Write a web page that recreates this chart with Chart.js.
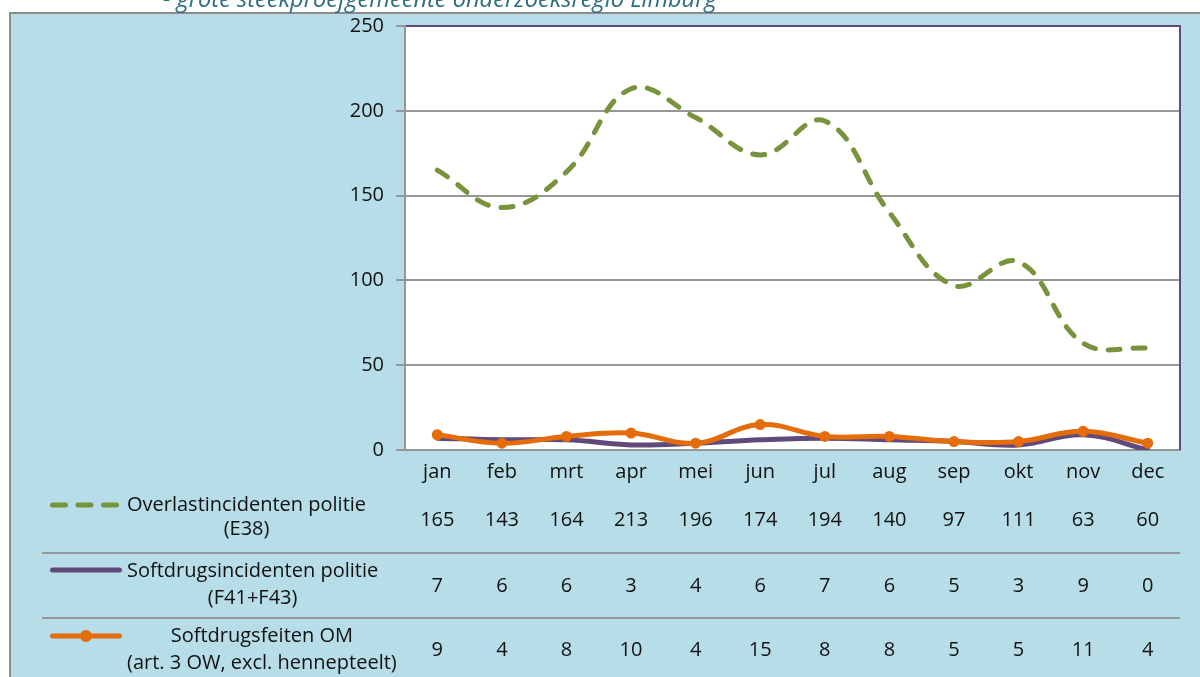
<!DOCTYPE html>
<html>
<head>
<meta charset="utf-8">
<script src="https://cdn.jsdelivr.net/npm/chart.js@4.4.1/dist/chart.umd.min.js"></script>
<style>
  html, body { margin: 0; padding: 0; background: #fff; }
  #chart { display: block; }
</style>
</head>
<body>
<canvas id="chart" width="1200" height="677"></canvas>
<script>
// chart data
const months = ['jan', 'feb', 'mrt', 'apr', 'mei', 'jun', 'jul', 'aug', 'sep', 'okt', 'nov', 'dec'];
const overlast = [165, 143, 164, 213, 196, 174, 194, 140, 97, 111, 63, 60];
const softdrugsPolitie = [7, 6, 6, 3, 4, 6, 7, 6, 5, 3, 9, 0];
const softdrugsOM = [9, 4, 8, 10, 4, 15, 8, 8, 5, 5, 11, 4];
const yTicks = [0, 50, 100, 150, 200, 250];

const seriesLabels = [
    ['Overlastincidenten politie', '(E38)'],
    ['Softdrugsincidenten politie', '(F41+F43)'],
    ['Softdrugsfeiten OM', '(art. 3 OW, excl. hennepteelt)']
];
const titleText = '- grote steekproefgemeente onderzoeksregio Limburg';

const GREEN = '#77933C';
const PURPLE = '#604A7B';
const ORANGE = '#E46C0A';
const GRAY = '#969696';
const BG = '#B7DDE8';
const FONT = '"Open Sans", "Noto Sans", sans-serif';
const FONT_SIZE = 20;
const TEXT = '#111111';

// background frame + plot area fill
const framePlugin = {
    id: 'frame',
    beforeDraw(chart) {
        const { ctx, chartArea } = chart;
        ctx.save();
        ctx.fillStyle = '#ffffff';
        ctx.fillRect(0, 0, chart.width, chart.height);
        ctx.fillStyle = BG;
        ctx.fillRect(10, 12, chart.width - 10, chart.height - 12);
        ctx.strokeStyle = '#8c8c8c';
        ctx.lineWidth = 2;
        ctx.beginPath();
        ctx.moveTo(10, chart.height);
        ctx.lineTo(10, 13);
        ctx.lineTo(chart.width, 13);
        ctx.stroke();

        // title line (only lower half visible)
        ctx.fillStyle = '#2E6D80';
        let size = 21;
        ctx.font = 'italic ' + size + 'px ' + FONT;
        const w = ctx.measureText(titleText).width;
        size = size * 554 / w;
        ctx.font = 'italic ' + size.toFixed(1) + 'px ' + FONT;
        ctx.textBaseline = 'alphabetic';
        ctx.fillText(titleText, 163, 7);

        ctx.fillStyle = '#ffffff';
        ctx.fillRect(chartArea.left, chartArea.top, chartArea.right - chartArea.left, chartArea.bottom - chartArea.top);
        ctx.restore();
    },
    beforeDatasetsDraw(chart) {
        const { ctx, chartArea } = chart;
        ctx.save();
        ctx.strokeStyle = PURPLE;
        ctx.lineWidth = 2;
        ctx.beginPath();
        ctx.moveTo(chartArea.right, chartArea.top - 1);
        ctx.lineTo(chartArea.right, chartArea.bottom);
        ctx.stroke();
        ctx.restore();
    }
};

// data table under the chart
const tablePlugin = {
    id: 'dataTable',
    afterDraw(chart) {
        const { ctx } = chart;
        const xScale = chart.scales.x;
        const rows = [overlast, softdrugsPolitie, softdrugsOM];
        const rowY = [520, 586, 650];
        const textY = [[505, 529], [571, 598], [636, 663]];
        const symY = [505, 570, 636];
        ctx.save();

        // separators
        ctx.strokeStyle = GRAY;
        ctx.lineWidth = 2;
        [553, 618].forEach(y => {
            ctx.beginPath();
            ctx.moveTo(42, y);
            ctx.lineTo(chart.chartArea.right, y);
            ctx.stroke();
        });

        ctx.font = FONT_SIZE + 'px ' + FONT;
        ctx.fillStyle = TEXT;
        ctx.textAlign = 'center';
        ctx.textBaseline = 'middle';
        rows.forEach((row, r) => {
            row.forEach((v, i) => {
                ctx.fillText(String(v), xScale.getPixelForValue(i), rowY[r]);
            });
            const lines = seriesLabels[r];
            const maxW = Math.max(...lines.map(l => ctx.measureText(l).width));
            const cx = 127 + maxW / 2;
            lines.forEach((l, k) => ctx.fillText(l, cx, textY[r][k]));
        });

        // legend symbols
        ctx.lineCap = 'round';
        ctx.lineWidth = 5;
        ctx.strokeStyle = GREEN;
        ctx.setLineDash([13, 12.5]);
        ctx.beginPath();
        ctx.moveTo(52.5, symY[0]);
        ctx.lineTo(119, symY[0]);
        ctx.stroke();
        ctx.setLineDash([]);

        ctx.strokeStyle = PURPLE;
        ctx.beginPath();
        ctx.moveTo(52.5, symY[1]);
        ctx.lineTo(119.5, symY[1]);
        ctx.stroke();

        ctx.strokeStyle = ORANGE;
        ctx.beginPath();
        ctx.moveTo(52.5, symY[2]);
        ctx.lineTo(119.5, symY[2]);
        ctx.stroke();
        ctx.fillStyle = ORANGE;
        ctx.beginPath();
        ctx.arc(86, symY[2], 6, 0, Math.PI * 2);
        ctx.fill();
        ctx.restore();
    }
};

const ctx = document.getElementById('chart').getContext('2d');
new Chart(ctx, {
    type: 'line',
    data: {
        labels: months,
        datasets: [
            {
                label: seriesLabels[0].join(' '),
                data: overlast,
                borderColor: GREEN,
                borderWidth: 5,
                borderDash: [12, 13],
                borderCapStyle: 'round',
                pointRadius: 0,
                tension: 0.4,
                order: 2
            },
            {
                label: seriesLabels[1].join(' '),
                data: softdrugsPolitie,
                borderColor: PURPLE,
                borderWidth: 5,
                borderCapStyle: 'round',
                pointRadius: 0,
                tension: 0.4,
                order: 1
            },
            {
                label: seriesLabels[2].join(' '),
                data: softdrugsOM,
                borderColor: ORANGE,
                backgroundColor: ORANGE,
                borderWidth: 5,
                borderCapStyle: 'round',
                pointRadius: 5.5,
                pointBorderWidth: 0,
                pointBackgroundColor: ORANGE,
                tension: 0.4,
                order: 0
            }
        ]
    },
    options: {
        responsive: false,
        animation: false,
        devicePixelRatio: 1,
        layout: { padding: { top: 26, right: 20, left: 0, bottom: 0 } },
        plugins: {
            legend: { display: false },
            tooltip: { enabled: false }
        },
        scales: {
            x: {
                offset: true,
                grid: { display: false },
                border: { display: true, color: GRAY, width: 2 },
                ticks: { color: TEXT, font: { family: FONT, size: FONT_SIZE }, padding: 2, maxRotation: 0 },
                afterFit(scale) { scale.height = 227; }
            },
            y: {
                min: 0,
                max: 250,
                afterBuildTicks(scale) { scale.ticks = yTicks.map(v => ({ value: v })); },
                grid: {
                    color: c => (c.tick && c.tick.value === 250 ? PURPLE : GRAY),
                    lineWidth: 2,
                    tickLength: 9,
                    tickColor: GRAY,
                    tickWidth: 2
                },
                border: { display: true, color: GRAY, width: 2 },
                ticks: { color: TEXT, font: { family: FONT, size: FONT_SIZE }, padding: 12 },
                afterFit(scale) { scale.width = 405; }
            }
        }
    },
    plugins: [framePlugin, tablePlugin]
});
</script>
</body>
</html>
